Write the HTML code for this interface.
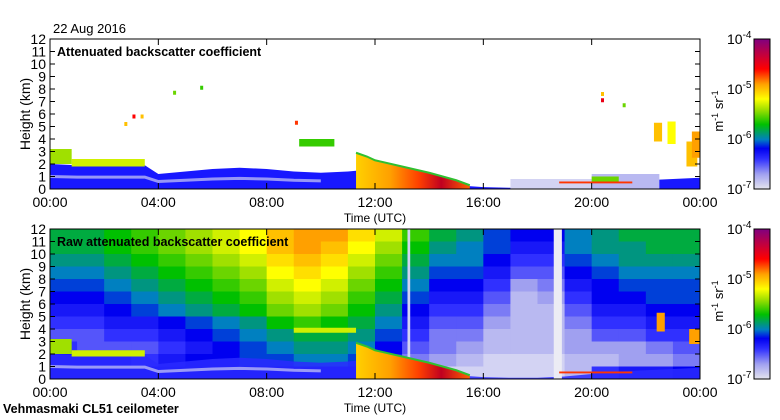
<!DOCTYPE html>
<html><head><meta charset="utf-8">
<style>
html,body{margin:0;padding:0;background:#fff;}
svg{display:block;font-family:"Liberation Sans",sans-serif;}
</style></head>
<body>
<svg id="chart" width="780" height="420" viewBox="0 0 780 420" xmlns="http://www.w3.org/2000/svg">
<defs>
<linearGradient id="cbar" x1="0" y1="1" x2="0" y2="0">
<stop offset="0" stop-color="#e4e4ee"/><stop offset="0.1" stop-color="#a0a0f0"/>
<stop offset="0.2" stop-color="#3030ff"/><stop offset="0.27" stop-color="#0000f0"/>
<stop offset="0.33" stop-color="#0080c0"/><stop offset="0.43" stop-color="#00c000"/>
<stop offset="0.53" stop-color="#a0e000"/><stop offset="0.6" stop-color="#ffff00"/>
<stop offset="0.7" stop-color="#ffa000"/><stop offset="0.8" stop-color="#ff0000"/>
<stop offset="0.9" stop-color="#c00040"/><stop offset="1" stop-color="#800080"/>
</linearGradient>
<clipPath id="clipTop"><rect x="50" y="39" width="650" height="150"/></clipPath>
<clipPath id="clipBot"><rect x="50" y="229" width="650" height="150"/></clipPath>
</defs>
<g id="layer"></g>
</svg>
<script>
// ---- data ----
const hoursCols = [0,1,2,3,4,5,6,7,8,9,10,11,12,13,14,15,16,17,18,19,20,21,22,23];
// raw backscatter log10 grid, rows top (11-12 km) to bottom (0-1 km)
const rawGrid = [
[-5.8,-5.8,-5.7,-5.6,-5.5,-5.4,-5.3,-5.2,-5.0,-4.9,-4.9,-5.1,-5.3,-5.6,-5.8,-5.9,-6.1,-6.2,-6.2,-6.0,-5.9,-5.8,-5.8,-5.8],
[-5.8,-5.8,-5.7,-5.6,-5.5,-5.4,-5.3,-5.2,-5.0,-4.9,-5.0,-5.2,-5.4,-5.7,-5.9,-6.0,-6.1,-6.3,-6.3,-6.0,-5.9,-5.9,-5.8,-5.8],
[-5.9,-5.9,-5.8,-5.7,-5.6,-5.5,-5.4,-5.3,-5.1,-5.0,-5.1,-5.3,-5.5,-5.8,-6.0,-6.0,-6.2,-6.4,-6.4,-6.1,-6.0,-5.9,-5.9,-5.9],
[-6.0,-6.0,-5.9,-5.8,-5.7,-5.6,-5.5,-5.4,-5.2,-5.1,-5.2,-5.4,-5.6,-5.9,-6.1,-6.1,-6.3,-6.5,-6.5,-6.2,-6.1,-6.0,-6.0,-6.0],
[-6.1,-6.1,-6.0,-5.9,-5.8,-5.7,-5.6,-5.5,-5.3,-5.2,-5.3,-5.5,-5.7,-6.0,-6.2,-6.2,-6.4,-6.7,-6.6,-6.3,-6.2,-6.1,-6.1,-6.1],
[-6.2,-6.2,-6.1,-6.0,-5.9,-5.8,-5.7,-5.6,-5.4,-5.3,-5.4,-5.6,-5.8,-6.1,-6.3,-6.3,-6.5,-6.8,-6.7,-6.4,-6.2,-6.2,-6.1,-6.1],
[-6.3,-6.3,-6.2,-6.1,-6.0,-5.9,-5.8,-5.7,-5.5,-5.4,-5.5,-5.7,-5.9,-6.2,-6.4,-6.4,-6.6,-6.8,-6.8,-6.5,-6.3,-6.3,-6.2,-6.2],
[-6.4,-6.4,-6.3,-6.3,-6.2,-6.1,-6.0,-5.9,-5.7,-5.6,-5.7,-5.8,-6.0,-6.3,-6.5,-6.5,-6.7,-6.8,-6.8,-6.6,-6.4,-6.4,-6.3,-6.3],
[-6.5,-6.5,-6.4,-6.4,-6.3,-6.2,-6.1,-6.0,-5.9,-5.8,-5.8,-5.9,-6.1,-6.4,-6.6,-6.6,-6.8,-6.8,-6.8,-6.7,-6.5,-6.5,-6.4,-6.4],
[-6.4,-6.5,-6.5,-6.5,-6.4,-6.3,-6.2,-6.1,-6.0,-5.9,-5.9,-6.0,-6.2,-6.5,-6.6,-6.7,-6.8,-6.8,-6.8,-6.7,-6.7,-6.7,-6.6,-6.5],
[-6.3,-6.3,-6.3,-6.4,-6.3,-6.2,-6.2,-6.1,-6.1,-6.0,-6.0,-6.1,-6.3,-6.6,-6.7,-6.8,-6.9,-6.9,-6.9,-6.8,-6.8,-6.7,-6.7,-6.6],
[-6.2,-6.2,-6.2,-6.2,-6.2,-6.2,-6.2,-6.2,-6.2,-6.2,-6.2,-6.2,-6.4,-6.7,-6.9,-6.9,-6.9,-6.9,-6.9,-6.8,-6.4,-6.3,-6.3,-6.2]
];
// boundary layer top (km)
const blTimes = [0,1,2,3,3.5,4,5,6,7,8,9,10,11,11.5,12,13,14,15,16,17,18,19,20,21,22,23,24];
const blTop   = [2.0,1.9,1.9,1.9,1.9,1.2,1.4,1.6,1.7,1.6,1.4,1.3,1.4,1.5,1.0,0.7,0.5,0.3,0.15,0.1,0.1,0.2,0.4,0.6,0.7,0.8,0.9];
// precipitation / low cloud top (km)
const pTimes = [11.3,11.7,12,13,14,15,15.5];
const pTop   = [2.9,2.6,2.3,1.8,1.3,0.7,0.3];
// cloud segments: [t0, t1, h0, h1, log10 value]
const topSegs = [[17,20,0,0.8,-6.9],[20,22.5,0,1.2,-6.8],[0,0.8,2.0,3.2,-5.4],[0.8,3.5,1.8,2.4,-5.3],[9.2,10.5,3.4,4.0,-5.6],[20.0,21.0,0.5,1.0,-5.5],[22.3,22.6,3.8,5.3,-5.0],[22.8,23.1,3.6,5.4,-5.2],[23.5,23.9,1.8,3.8,-5.0],[23.7,24,2.5,4.6,-4.9],[18.8,21.5,0.45,0.6,-4.7]];
const botSegs = [[18.6,18.9,0,12,-7],[13.2,13.3,0,12,-6.9],[0,0.8,2.0,3.2,-5.4],[0.8,3.5,1.8,2.3,-5.3],[9.0,11.3,3.7,4.1,-5.3],[22.4,22.7,3.8,5.3,-4.9],[23.6,24,2.8,4.0,-4.9],[18.8,21.5,0.45,0.6,-4.7]];
// isolated echoes [time, height, value]
const dots = [[2.8,5.2,-5],[3.1,5.8,-4.6],[3.4,5.8,-5],[4.6,7.7,-5.5],[5.6,8.1,-5.6],[9.1,5.3,-4.7],[20.4,7.6,-5],[20.4,7.1,-4.5],[21.2,6.7,-5.5]];
const yTicks = [0,1,2,3,4,5,6,7,8,9,10,11,12];
const xTicks = [0,4,8,12,16,20,24];
const xLabels = ["00:00","04:00","08:00","12:00","16:00","20:00","00:00"];
const cbExp = ["-7","-6","-5","-4"];

// ---- helpers ----
const NS="http://www.w3.org/2000/svg";
const root=document.getElementById('layer');
function mk(tag,attrs,parent){const e=document.createElementNS(NS,tag);for(const k in attrs)e.setAttribute(k,attrs[k]);(parent||root).appendChild(e);return e;}
const stops=[[-7,[236,236,244]],[-6.7,[160,160,240]],[-6.4,[48,48,255]],[-6.2,[0,0,240]],[-6.0,[0,128,192]],[-5.7,[0,192,0]],[-5.4,[160,224,0]],[-5.2,[255,255,0]],[-4.9,[255,160,0]],[-4.6,[255,0,0]],[-4.3,[192,0,64]],[-4.0,[128,0,128]]];
function cmap(v){if(v<=stops[0][0])return 'rgb('+stops[0][1]+')';for(let i=1;i<stops.length;i++){if(v<=stops[i][0]){const a=stops[i-1],b=stops[i],f=(v-a[0])/(b[0]-a[0]);return 'rgb('+a[1].map((c,j)=>Math.round(c+(b[1][j]-c)*f)).join(',')+')';}}return 'rgb(128,0,128)';}
const X0=50,W=650;
function xs(h){return X0+h*W/24;}
function panel(top){return h=>top+150-h*12.5;}

function drawPanel(top,isRaw,title,clip,segs){
  const ys=panel(top);
  const g=mk('g',{'clip-path':'url(#'+clip+')'});
  
  
  if(isRaw){
    rawGrid.forEach((row,ri)=>{const km=11-ri;row.forEach((v,ci)=>{
      const c=mk('rect',{x:xs(hoursCols[ci]),y:ys(km+1),width:W/24+0.5,height:12.6,fill:cmap(v)},g);
      
      
    });});
  }
  let pts=blTimes.map((t,i)=>xs(t)+','+ys(blTop[i])).join(' ');
  pts+=' '+xs(24)+','+ys(0)+' '+xs(0)+','+ys(0);
  const bl=mk('polygon',{points:pts,fill:isRaw?'#2a2aff':'#1818ff',opacity:isRaw?0.85:1},g);
  
  
  const wb=mk('polyline',{points:blTimes.filter(t=>t<11).map((t,i)=>xs(t)+','+ys(blTop[i]*0.5)).join(' '),fill:'none',stroke:'#b8b8f4','stroke-width':3,opacity:0.8},g);
  
  
  segs.forEach(s=>{const r=mk('rect',{x:xs(s[0]),y:ys(s[3]),width:xs(s[1])-xs(s[0]),height:ys(s[2])-ys(s[3]),fill:cmap(s[4])},g);
    
    });
  const gradId='pg'+top;
  const lg=mk('linearGradient',{id:gradId,x1:0,y1:0,x2:1,y2:0},g);
  [[0,'#ffd000'],[0.3,'#ffa000'],[0.55,'#ff4000'],[0.75,'#c00020'],[1,'#ff6000']].forEach(s=>mk('stop',{offset:s[0],'stop-color':s[1]},lg));
  let pp=pTimes.map((t,i)=>xs(t)+','+ys(pTop[i])).join(' ')+' '+xs(15.5)+','+ys(0)+' '+xs(11.3)+','+ys(0);
  const pr=mk('polygon',{points:pp,fill:'url(#'+gradId+')'},g);
  
  
  const pe=mk('polyline',{points:pTimes.map((t,i)=>xs(t)+','+ys(pTop[i])).join(' '),fill:'none',stroke:'#30c030','stroke-width':2},g);
  
  
  if(!isRaw){dots.forEach(d=>{const r=mk('rect',{x:xs(d[0])-1.5,y:ys(d[1])-2,width:3,height:4,fill:cmap(d[2])},g);
    
    });}
  const fr=mk('rect',{x:X0,y:top,width:W,height:150,fill:'none',stroke:'#000','stroke-width':1});
  
  
  yTicks.forEach(k=>{const y=ys(k);
    mk('line',{x1:X0,x2:X0+5,y1:y,y2:y,stroke:'#000'});mk('line',{x1:X0+W-5,x2:X0+W,y1:y,y2:y,stroke:'#000'});
    const t=mk('text',{x:46,y:y+5,'text-anchor':'end','font-size':14});t.textContent=k;
    
    });
  xTicks.forEach((h,i)=>{const x=xs(h);
    mk('line',{x1:x,x2:x,y1:top,y2:top+6,stroke:'#000'});mk('line',{x1:x,x2:x,y1:top+144,y2:top+150,stroke:'#000'});
    const t=mk('text',{x:x,y:top+168,'text-anchor':'middle','font-size':14});t.textContent=xLabels[i];
    
    });
  const xt=mk('text',{x:375,y:top+183,'text-anchor':'middle','font-size':12});xt.textContent='Time (UTC)';
  
  
  const yt=mk('text',{x:0,y:0,'text-anchor':'middle','font-size':14,transform:'translate(30,'+(top+75)+') rotate(-90)'});yt.textContent='Height (km)';
  
  
  const tt=mk('text',{x:57,y:top+17,'font-size':12.5,'font-weight':'bold'});tt.textContent=title;
  
  
  const cb=mk('rect',{x:754,y:top,width:16,height:150,fill:'url(#cbar)',stroke:'#000'});
  
  
  cbExp.forEach((e,i)=>{const y=top+150-i*50;
    const t=mk('text',{x:727,y:y+5,'font-size':14});t.textContent='10';
    const s=mk('tspan',{dy:-6,'font-size':10},t);s.textContent=e;
    
    });
  const u=mk('text',{x:0,y:0,'text-anchor':'middle','font-size':13,transform:'translate(723,'+(top+72)+') rotate(-90)'});
  u.textContent='m';const a=mk('tspan',{dy:-5,'font-size':9},u);a.textContent='-1';
  const b=mk('tspan',{dy:5,'font-size':13},u);b.textContent=' sr';const c=mk('tspan',{dy:-5,'font-size':9},u);c.textContent='-1';
  
  
}
drawPanel(39,false,'Attenuated backscatter coefficient','clipTop',topSegs);
drawPanel(229,true,'Raw attenuated backscatter coefficient','clipBot',botSegs);
const d=mk('text',{x:53,y:33,'font-size':13});d.textContent='22 Aug 2016';


const f=mk('text',{x:3,y:413,'font-size':12.5,'font-weight':'bold'});f.textContent='Vehmasmaki CL51 ceilometer';


</script>
</body></html>
